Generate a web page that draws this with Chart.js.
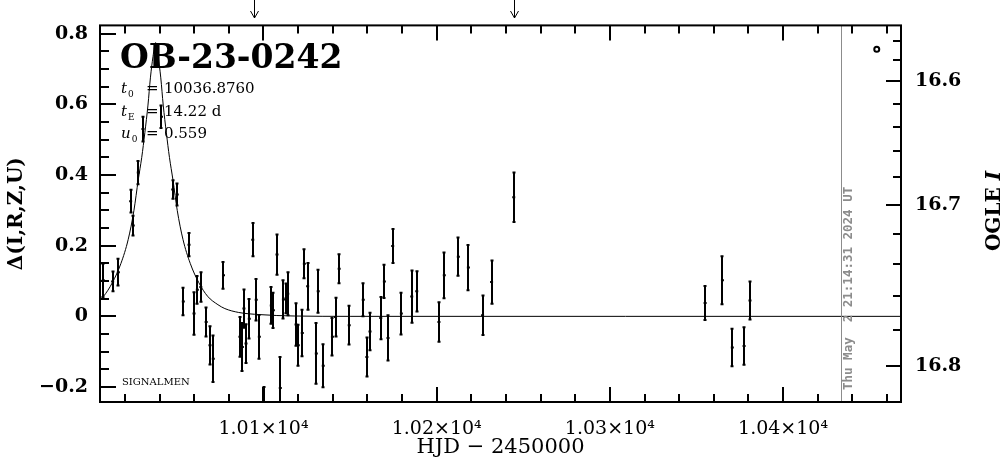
<!DOCTYPE html>
<html>
<head>
<meta charset="utf-8">
<script src="https://cdn.jsdelivr.net/npm/chart.js@4.4.0/dist/chart.umd.min.js"></script>
<style>
  html, body { margin: 0; padding: 0; background: #fff; }
  #wrap { width: 1004px; height: 459px; }
</style>
</head>
<body>
<div id="wrap"><canvas id="grafico"></canvas></div>
<script>
// OB-23-0242 light curve, Delta flux vs HJD - 2450000
const hjd = [
  10007.5, 10012.9, 10016.2, 10023.3, 10024.8, 10027.7, 10030.4, 10041.1, 10047.6, 10050.2,
  10053.7, 10057.0, 10059.9, 10061.8, 10063.8, 10066.9, 10069.1, 10071.0, 10076.9, 10086.4,
  10087.8, 10088.7, 10089.9, 10091.8, 10093.8, 10095.8, 10097.6, 10100.3, 10104.5, 10105.7,
  10107.8, 10109.7, 10111.5, 10113.0, 10114.0, 10118.8, 10120.1, 10122.4, 10123.6, 10125.5,
  10130.5, 10131.6, 10134.5, 10139.8, 10141.6, 10143.7, 10149.5, 10157.6, 10159.7, 10161.5,
  10167.7, 10169.8, 10171.9, 10174.6, 10179.6, 10185.6, 10188.5, 10201.3, 10204.4, 10212.5,
  10218.3, 10226.5, 10231.7, 10244.5, 10355.0, 10365.0, 10370.7, 10377.5, 10380.9
];
const delta = [
  0.102, 0.099, 0.125, 0.326, 0.257, 0.407, 0.530, 0.565, 0.359, 0.345,
  0.042, 0.203, 0.008, 0.075, 0.083, -0.016, -0.082, -0.120, 0.116, -0.058,
  -0.087, 0.022, -0.077, -0.007, 0.217, 0.047, -0.058, -0.280, 0.031, 0.017,
  0.175, -0.203, 0.048, 0.051, 0.064, -0.023, -0.082, -0.047, 0.149, 0.085,
  -0.105, 0.071, -0.140, -0.058, -0.002, 0.135, -0.025, 0.047, -0.115, -0.043,
  -0.005, 0.099, -0.061, 0.199, 0.008, 0.056, 0.071, -0.016, 0.116, 0.169,
  0.138, 0.003, 0.097, 0.337, 0.038, 0.102, -0.088, -0.084, 0.045
];
const err = [
  0.047, 0.028, 0.038, 0.032, 0.028, 0.033, 0.035, 0.032, 0.026, 0.031,
  0.039, 0.033, 0.060, 0.039, 0.042, 0.041, 0.054, 0.066, 0.038, 0.056,
  0.068, 0.054, 0.055, 0.056, 0.047, 0.059, 0.062, 0.080, 0.052, 0.050,
  0.057, 0.088, 0.054, 0.042, 0.061, 0.060, 0.058, 0.066, 0.041, 0.066,
  0.086, 0.061, 0.061, 0.053, 0.055, 0.041, 0.055, 0.047, 0.055, 0.053,
  0.060, 0.047, 0.064, 0.048, 0.059, 0.074, 0.057, 0.056, 0.065, 0.054,
  0.064, 0.056, 0.061, 0.070, 0.048, 0.068, 0.053, 0.053, 0.054
];

// model curve
const modelT = [
  10005.6, 10007.7, 10012.7, 10017.7, 10021.9, 10025.2, 10027.7, 10029.7, 10031.5, 10033.3,
  10034.7, 10036.2, 10037.7, 10039.2, 10040.7, 10042.1, 10043.9, 10045.7, 10047.7, 10050.2,
  10053.5, 10057.7, 10062.7, 10067.7, 10073.7, 10077.7, 10085.7, 10097.7, 10117.7, 10150.0,
  10468.1
];
const modelD = [
  0.047, 0.057, 0.095, 0.150, 0.218, 0.300, 0.387, 0.450, 0.520, 0.598,
  0.675, 0.735, 0.775, 0.735, 0.675, 0.598, 0.520, 0.450, 0.387, 0.300,
  0.218, 0.150, 0.095, 0.057, 0.033, 0.022, 0.011, 0.005, 0.001, 0.000,
  0.000
];

const xMajor = [10100, 10200, 10300, 10400];
const xLabels = ["1.01×10⁴", "1.02×10⁴", "1.03×10⁴", "1.04×10⁴"];
const yMajor = [-0.2, 0, 0.2, 0.4, 0.6, 0.8];
const yLabels = ["−0.2", "0", "0.2", "0.4", "0.6", "0.8"];
const magMajor = [16.6, 16.7, 16.8];
const magLabels = ["16.6", "16.7", "16.8"];
const magMinor = [16.56, 16.58, 16.62, 16.64, 16.66, 16.68, 16.72, 16.74, 16.76, 16.78];

const arrowT = [10094.5, 10244.6];
const nowT = 10433.7;
const nowLabel = "Thu May  2 21:14:31 2024 UT";
const symbolT = [10454.1];
const symbolD = [0.756];

const eventName = "OB-23-0242";
const params = [["t", "0", "10036.8760"], ["t", "E", "14.22 d"], ["u", "0", "0.559"]];

const X_MIN = 10005.6, X_MAX = 10468.1;
const Y_MIN = -0.2424, Y_MAX = 0.8235;
const SERIF = "'DejaVu Serif', serif";

// OGLE I magnitude -> Delta position on the left scale
function magToDelta(m) {
  return 1.799 - 1.134 * Math.exp(2.685 * (m - 16.6));
}

const decorations = {
  id: "decorations",
  afterDatasetsDraw(chart) {
    const { ctx, chartArea: ca, scales: { x, y } } = chart;
    ctx.save();
    ctx.beginPath();
    ctx.rect(ca.left, ca.top, ca.right - ca.left, ca.bottom - ca.top);
    ctx.clip();
    ctx.strokeStyle = "#000";
    ctx.lineWidth = 2;
    hjd.forEach((t, i) => {
      const px = Math.round(x.getPixelForValue(t));
      const y1 = y.getPixelForValue(delta[i] + err[i]);
      const y2 = y.getPixelForValue(delta[i] - err[i]);
      ctx.beginPath();
      ctx.moveTo(px, y1); ctx.lineTo(px, y2);
      ctx.moveTo(px - 1.5, y1); ctx.lineTo(px + 1.5, y1);
      ctx.moveTo(px - 1.5, y2); ctx.lineTo(px + 1.5, y2);
      ctx.stroke();
    });
    // date line
    const nx = Math.round(x.getPixelForValue(nowT)) + 0.5;
    ctx.strokeStyle = "#8c8c8c";
    ctx.lineWidth = 1;
    ctx.beginPath();
    ctx.moveTo(nx, ca.top); ctx.lineTo(nx, ca.bottom);
    ctx.stroke();
    ctx.restore();
  },
  afterDraw(chart) {
    const { ctx, chartArea: ca, scales: { x, y } } = chart;
    ctx.save();
    ctx.strokeStyle = "#000";
    ctx.fillStyle = "#000";
    ctx.lineWidth = 2;
    ctx.strokeRect(ca.left, ca.top, ca.right - ca.left, ca.bottom - ca.top);

    // x ticks, bottom and top
    ctx.beginPath();
    for (let v = 10020; v < X_MAX; v += 20) {
      const px = Math.round(x.getPixelForValue(v));
      const len = v % 100 === 0 ? 15 : 8;
      ctx.moveTo(px, ca.bottom); ctx.lineTo(px, ca.bottom - len);
      ctx.moveTo(px, ca.top); ctx.lineTo(px, ca.top + len);
    }
    // left ticks
    for (let k = -4; k <= 16; k++) {
      const py = Math.round(y.getPixelForValue(k * 0.05));
      const len = k % 4 === 0 ? 16 : 9;
      ctx.moveTo(ca.left, py); ctx.lineTo(ca.left + len, py);
    }
    // right ticks (OGLE I)
    magMajor.forEach(m => {
      const py = Math.round(y.getPixelForValue(magToDelta(m)));
      ctx.moveTo(ca.right, py); ctx.lineTo(ca.right - 15, py);
    });
    magMinor.forEach(m => {
      const py = Math.round(y.getPixelForValue(magToDelta(m)));
      ctx.moveTo(ca.right, py); ctx.lineTo(ca.right - 8, py);
    });
    ctx.stroke();

    // arrows above the frame
    ctx.lineWidth = 1;
    ctx.beginPath();
    arrowT.forEach(t => {
      const px = Math.round(x.getPixelForValue(t)) + 0.5;
      ctx.moveTo(px, 0); ctx.lineTo(px, 18);
      ctx.moveTo(px - 4, 11); ctx.lineTo(px, 18); ctx.lineTo(px + 4, 11);
    });
    ctx.stroke();

    // event name and parameters
    ctx.textBaseline = "alphabetic";
    ctx.textAlign = "left";
    ctx.font = "bold 33px " + SERIF;
    ctx.fillText(eventName, 120, 68);
    params.forEach((p, i) => {
      const bx = 121, by = 93 + i * 22.5;
      ctx.font = "italic 15px " + SERIF;
      ctx.fillText(p[0], bx, by);
      const w = ctx.measureText(p[0]).width;
      ctx.font = "9px " + SERIF;
      ctx.fillText(p[1], bx + w + 1, by + 4);
      ctx.font = "15px " + SERIF;
      ctx.fillText("=", bx + 25, by);
      ctx.fillText(p[2], bx + 43, by);
    });
    ctx.font = "10px " + SERIF;
    ctx.fillText("SIGNALMEN", 122, 385);

    // date stamp
    const nx = Math.round(x.getPixelForValue(nowT));
    ctx.save();
    ctx.translate(nx + 8, ca.bottom - 12);
    ctx.rotate(-Math.PI / 2);
    ctx.fillStyle = "#8c8c8c";
    ctx.font = "bold 12.5px 'DejaVu Sans Mono', monospace";
    ctx.textBaseline = "middle";
    ctx.fillText(nowLabel, 0, 0);
    ctx.restore();

    // right axis title
    ctx.save();
    ctx.translate(995, 211);
    ctx.rotate(-Math.PI / 2);
    ctx.textBaseline = "middle";
    ctx.font = "bold 20px " + SERIF;
    const w1 = ctx.measureText("OGLE ").width;
    ctx.font = "italic bold 20px " + SERIF;
    const w2 = ctx.measureText("I").width;
    const sx = -(w1 + w2) / 2;
    ctx.font = "bold 20px " + SERIF;
    ctx.fillText("OGLE ", sx, 0);
    ctx.font = "italic bold 20px " + SERIF;
    ctx.fillText("I", sx + w1, 0);
    ctx.restore();

    ctx.restore();
  }
};

new Chart(document.getElementById("grafico"), {
  type: "scatter",
  data: {
    datasets: [
      {
        type: "line",
        label: "model",
        data: modelT.map((t, i) => ({ x: t, y: modelD[i] })),
        borderColor: "#000",
        borderWidth: 1,
        pointRadius: 0,
        cubicInterpolationMode: "monotone",
        fill: false
      },
      {
        label: "data",
        data: hjd.map((t, i) => ({ x: t, y: delta[i] })),
        pointStyle: "line",
        pointRadius: 1.5,
        borderColor: "#000",
        borderWidth: 2
      },
      {
        label: "symbol",
        data: symbolT.map((t, i) => ({ x: t, y: symbolD[i] })),
        pointStyle: "circle",
        pointRadius: 2.5,
        borderColor: "#000",
        backgroundColor: "#fff",
        borderWidth: 2
      }
    ]
  },
  options: {
    responsive: true,
    maintainAspectRatio: false,
    animation: false,
    layout: { padding: { top: 25, left: 0, right: 0, bottom: 0 } },
    plugins: { legend: { display: false }, tooltip: { enabled: false } },
    scales: {
      x: {
        type: "linear",
        min: X_MIN, max: X_MAX,
        afterBuildTicks: s => { s.ticks = xMajor.map(v => ({ value: v })); },
        afterFit: s => { s.height = 57; },
        grid: { display: false, drawTicks: false },
        border: { display: false },
        ticks: {
          autoSkip: false, maxRotation: 0, padding: 16,
          color: "#000",
          font: { family: SERIF, size: 19 },
          callback: (v, i) => xLabels[i]
        },
        title: {
          display: true, text: "HJD − 2450000", color: "#000",
          font: { family: SERIF, size: 21, lineHeight: 1 },
          padding: { top: 0, bottom: 1 }
        }
      },
      y: {
        position: "left",
        min: Y_MIN, max: Y_MAX,
        afterBuildTicks: s => { s.ticks = yMajor.map(v => ({ value: v })); },
        afterFit: s => { s.width = 100; },
        grid: { display: false, drawTicks: false },
        border: { display: false },
        ticks: {
          autoSkip: false, padding: 12, color: "#000",
          font: { family: SERIF, size: 19, weight: "bold" },
          callback: (v, i) => yLabels[i]
        },
        title: {
          display: true, text: "Δ(I,R,Z,U)", color: "#000",
          font: { family: SERIF, size: 20, weight: "bold", lineHeight: 1 },
          padding: { top: 7, bottom: 0 }
        }
      },
      y2: {
        position: "right",
        min: Y_MIN, max: Y_MAX,
        afterBuildTicks: s => { s.ticks = magMajor.map(m => ({ value: magToDelta(m) })); },
        afterFit: s => { s.width = 103; },
        grid: { display: false, drawTicks: false },
        border: { display: false },
        ticks: {
          autoSkip: false, padding: 14, color: "#000",
          font: { family: SERIF, size: 19, weight: "bold" },
          callback: (v, i) => magLabels[i]
        }
      }
    }
  },
  plugins: [decorations]
});
</script>
</body>
</html>
